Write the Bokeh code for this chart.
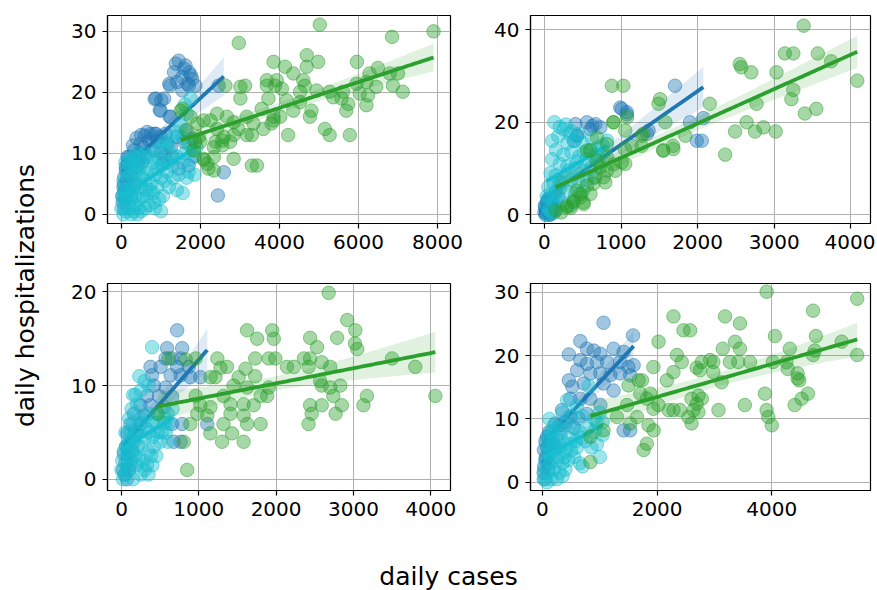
import numpy as np
from bokeh.plotting import figure
from bokeh.layouts import row, column
from bokeh.models import Label, FixedTicker, Range1d
from bokeh.embed import file_html
from bokeh.resources import INLINE

BLUE = "#1f77b4"
CYAN = "#17becf"
GREEN = "#2ca02c"

# ---------------- data (daily cases, daily hospitalizations) ----------------
p1_green = [(5020,31.1),(7900,30.0),(6850,29.1),(2970,28.1),(4690,26.1),(4690,24.2),(4980,25.0),(3850,25.0),
    (4140,24.2),(5960,25.0),(6490,24.0),(6280,23.1),(6790,23.1),(7000,23.1),(3680,22.0),(3930,22.0),(4600,22.0),
    (3680,21.1),(3890,21.1),(4060,20.6),(3130,21.1),(4640,21.1),(4940,20.3),(4520,20.1),(5270,20.1),(5610,20.1),
    (5950,21.4),(6200,21.7),(6450,20.9),(6870,21.1),(7120,20.1),(6030,19.8),(6240,19.5),(5570,19.0),(5740,18.1),
    (6200,17.9),(5690,17.0),(4520,18.4),(4350,17.0),(4180,18.7),(3720,19.0),(3010,19.0),(3550,17.3),(3850,16.0),
    (4020,16.0),(4770,16.0),(4810,17.0),(3170,16.0),(3340,14.9),(3590,14.0),(3800,14.9),(3850,15.4),(2960,14.0),
    (3170,13.0),(2840,13.0),(2590,12.7),(2420,14.0),(2250,15.4),(2080,15.4),(2420,16.5),(2670,16.0),(2840,15.1),
    (2550,12.1),(2750,11.9),(2380,11.9),(2000,11.9),(2340,11.0),(2550,11.3),(3300,13.0),(4220,13.0),(5150,14.0),
    (5270,13.0),(5780,13.0),(2840,9.1),(2080,9.1),(2170,8.3),(2340,7.2),(3300,8.0),(3430,8.0),(1830,10.5),
    (1960,12.7),(1500,17.0),(1540,17.3),(1750,16.0),(1920,14.9),(2340,9.4),(3010,20.9),(2630,21.1),(4350,23.1),
    (5360,19.2),(1660,13.8),(1870,11.9),(2090,8.9),(2200,7.5)]
p1_blue = [(1450,25.2),(1620,24.4),(1330,23.3),(1710,23.3),(1540,22.5),(1790,22.2),(1210,21.4),(1410,21.7),
    (1710,21.1),(1870,21.1),(1540,20.3),(870,19.0),(1080,19.0),(990,17.0),(1240,16.0),(2460,21.1),(2590,6.9),
    (2440,3.1),(740,13.2),(870,13.2),(990,12.7),(700,12.1),(490,11.6),(320,10.5),(190,9.4),(150,8.3),(110,7.2),
    (240,6.1),(360,5.0),(70,5.0),(70,3.7),(400,7.8),(610,9.4),(820,10.5),(1160,11.6),(1410,12.7),(1620,13.8),
    (1580,11.9),(1290,9.4),(1040,8.3),(1790,12.4),(1120,13.2),(530,8.6),(280,7.5),(150,5.8),(1375,24.7),
    (1585,23.9),(1755,22.8),(1230,21.1),(1670,21.4),(840,18.9),(1010,18.7),(970,17.1),(1220,16.0),(840,13.2),
    (590,12.9),(290,11.3),(150,9.4),(110,7.8),(70,6.1),(410,8.9),(30,2.0),(50,4.5),(20,3.0),(100,2.5),(200,4.0),
    (60,1.0),(250,3.0),(500,13.0),(650,13.5),(900,12.0),(1000,10.0),(1100,9.5),(1250,11.0),(380,12.5),
    (450,10.0),(560,11.0),(1850,9.5),(1700,8.0),(1450,7.5)]
p1_cyan = [(1750,19.0),(1600,18.0),(1650,16.5),(1500,14.5),(1400,13.5),(1300,12.8),(1550,12.5),(1700,11.5),
    (1800,10.5),(1900,11.0),(1200,11.5),(1100,12.0),(1000,11.0),(900,10.5),(1250,10.0),(1400,9.5),(1550,8.5),
    (1700,7.0),(1850,6.5),(1650,6.0),(1300,8.0),(1150,8.5),(950,9.0),(800,8.5),(700,9.5),(600,10.0),(500,9.5),
    (400,10.0),(300,9.5),(200,9.0),(100,8.5),(650,7.5),(550,7.0),(450,7.5),(350,7.0),(250,6.5),(150,6.0),(50,5.5),
    (850,6.5),(1000,6.0),(1100,5.5),(1200,4.5),(1400,4.0),(1550,3.5),(900,4.5),(750,5.0),(600,5.5),(500,4.5),
    (400,5.0),(300,4.5),(200,4.0),(100,3.5),(50,2.5),(150,2.0),(250,2.5),(350,3.0),(450,2.5),(550,3.0),(650,3.0),
    (800,3.5),(950,2.5),(1050,3.0),(700,1.5),(600,1.0),(500,0.5),(400,0.0),(300,0.5),(200,1.0),(100,0.5),(0,1.0),
    (50,0.0),(250,0.0),(350,1.5),(450,1.0),(850,1.0),(1000,0.5),(150,3.0),(75,4.0),(25,3.0),(120,7.0),(220,8.0),
    (320,8.5),(420,8.0),(520,6.0),(620,4.0),(720,4.0),(820,2.0),(1150,7.0),(1300,6.0),(1450,6.5),(1600,10.0),
    (1750,9.0),(1000,8.0),(900,7.5)]

p2_green = [(3385,40.9),(3140,34.9),(3250,34.9),(3570,34.9),(3745,33.2),(2550,32.6),(2570,31.9),(2700,30.8),
    (3030,30.8),(4085,29.0),(880,27.9),(1030,27.9),(3250,27.0),(3225,25.0),(2770,24.0),(2160,24.0),(1510,25.0),
    (1490,24.0),(3400,21.9),(3550,22.9),(2640,20.0),(2490,18.0),(2750,18.0),(2860,18.9),(3020,18.0),(1840,17.1),
    (1580,20.0),(1680,14.9),(1550,13.9),(2360,13.0),(1080,21.1),(900,20.0),(1055,18.2),(1290,17.5),(1270,14.9),
    (1140,14.9),(1010,11.3),(1055,11.0),(925,9.5),(795,7.0),(665,8.1),(730,10.2),(555,6.3),(470,3.8),(380,2.7),
    (295,1.9),(510,2.7),(600,4.5),(425,5.2),(815,15.3),(685,16.7),(555,13.9),(903,20.0),(1050,14.2),(903,10.9),
    (816,9.5),(773,8.1),(643,6.7),(469,4.5),(382,3.0),(295,1.6),(512,2.3),(686,11.7),(599,13.9),(816,12.4),
    (1270,17.1),(1554,13.9),(1684,14.2),(145,1.0),(220,0.5),(350,1.5)]
p2_blue = [(1705,27.9),(1010,22.9),(1075,22.2),(1360,18.2),(1340,17.5),(1990,16.0),(2055,16.0),(1900,20.0),
    (2075,20.9),(665,19.6),(600,18.5),(425,17.1),(405,19.6),(555,20.0),(730,18.9),(990,23.2),(1077,21.7),
    (625,19.2),(430,17.1),(382,16.0),(20,0.5),(40,1.0),(60,0.0),(80,1.5),(30,2.5),(50,3.5),(70,2.0),(90,0.5),
    (10,1.5),(100,3.0),(150,5.0),(200,7.0),(120,2.0),(180,4.0),(0,0.5),(15,0.0),(35,0.5),(45,1.5),(25,1.0),
    (55,2.5),(65,0.5),(85,1.0),(5,2.0),(75,0.0),(110,1.0),(130,0.5),(95,2.5),(40,3.0)]
p2_cyan = [(130,20.0),(200,19.0),(250,18.5),(330,17.5),(180,17.0),(100,16.0),(300,15.5),(400,16.0),(500,15.5),
    (620,16.5),(700,14.5),(780,13.5),(150,14.0),(250,13.0),(350,13.5),(450,12.5),(550,12.0),(650,12.5),(100,12.0),
    (200,11.0),(300,10.5),(400,10.0),(500,9.5),(600,10.0),(720,11.0),(80,9.0),(150,8.5),(250,8.0),(350,7.5),
    (450,7.0),(550,7.5),(650,8.0),(50,6.0),(120,6.5),(200,5.5),(300,5.0),(400,4.5),(500,5.0),(30,4.0),(80,3.5),
    (150,3.0),(250,2.5),(350,2.0),(20,2.0),(60,1.0),(100,0.5),(180,1.5),(40,0.0),(130,4.5),(230,7.0),(320,9.5),
    (420,11.5),(520,13.5),(600,14.0),(680,13.0),(760,15.0),(820,16.0),(350,18.0),(450,17.5),(280,19.5)]

p3_green = [(2680,19.9),(2920,17.0),(3025,15.9),(1625,15.9),(1950,15.9),(1970,15.0),(1755,15.0),(2440,15.1),
    (2790,15.1),(2530,14.1),(3050,13.9),(610,12.9),(960,12.9),(1240,12.9),(1730,12.9),(1905,12.9),(1990,12.9),
    (2360,12.9),(2440,12.9),(2590,12.5),(2140,12.0),(2420,12.0),(2700,12.0),(3800,12.0),(3500,12.9),(1365,12.0),
    (1605,11.8),(1215,10.9),(1450,10.0),(1625,9.8),(1800,8.9),(1885,8.9),(1410,8.0),(1580,8.0),(1710,7.9),
    (1410,7.0),(1580,6.8),(1800,5.9),(1625,5.9),(1320,5.9),(1430,4.9),(1150,4.9),(1300,4.0),(1580,4.0),(960,8.9),
    (1020,7.9),(980,7.0),(1110,6.8),(890,5.9),(805,4.0),(850,1.0),(2440,7.9),(2590,7.9),(2460,7.0),(2420,5.9),
    (2770,7.0),(2850,7.9),(2590,10.0),(2740,8.9),(2830,10.0),(2700,9.8),(3175,8.9),(3130,7.9),(4060,8.9),
    (2570,10.5),(2230,12.0),(1730,11.0),(1905,9.8),(1320,8.9),(1150,7.7),(1515,10.9),(1280,11.9),(1150,10.9),
    (830,12.8),(470,7.0),(3020,14.5)]
p3_blue = [(720,15.9),(570,12.9),(655,12.9),(765,12.9),(375,12.0),(505,12.0),(395,11.1),(635,11.1),(765,11.1),
    (890,10.9),(1020,10.9),(420,10.0),(570,9.8),(330,8.9),(485,8.9),(655,8.8),(245,7.9),(375,7.9),(545,7.7),
    (160,7.0),(290,6.8),(115,5.9),(245,5.9),(655,5.9),(785,5.9),(1110,5.9),(75,4.9),(675,4.0),(765,4.0),(160,4.0),
    (590,14.0),(785,14.0),(870,12.0),(720,12.0),(30,2.7),(50,1.8),(95,1.0),(40,0.5),(60,3.5),(90,2.5),
    (130,3.0),(180,5.0),(120,1.5),(20,1.0),(70,0.0)]
p3_cyan = [(395,14.1),(200,8.0),(150,9.0),(250,9.5),(300,10.5),(350,10.0),(100,6.5),(50,5.0),(150,6.0),(250,6.5),
    (350,7.0),(450,7.0),(550,6.0),(600,4.0),(500,4.0),(400,4.5),(300,4.5),(200,5.0),(100,4.0),(30,3.0),
    (80,2.5),(150,3.0),(250,3.5),(350,3.0),(450,2.5),(0,1.0),(50,0.5),(100,1.0),(150,0.0),(200,1.5),(250,0.5),
    (300,1.0),(350,0.5),(400,1.5),(20,0.0),(70,1.5),(120,2.0),(180,2.5),(230,2.0),(280,2.0),(330,1.5),(380,2.5),
    (420,3.5),(470,5.0),(520,5.0),(570,5.0),(620,6.0),(660,7.5),(450,6.0),(550,6.5),(600,7.0),(10,2.0),(60,3.5),
    (110,5.0),(160,4.5),(210,3.5),(260,6.0),(310,5.5),(360,5.0),(410,6.0),(130,7.5),(180,9.0),(230,11.0)]

p4_green = [(3910,30.1),(5490,29.0),(4720,27.1),(2285,26.2),(3185,26.2),(3445,25.1),(2460,24.0),(2575,24.0),
    (4055,23.1),(4770,23.1),(5220,22.2),(2025,22.2),(3145,21.1),(3360,22.2),(3445,21.1),(4315,21.1),(4750,20.8),
    (4720,20.1),(5490,20.1),(2345,20.1),(2430,19.0),(2780,19.0),(2925,19.3),(2980,19.0),(3270,19.0),(3415,19.0),
    (3620,19.0),(4020,19.0),(4255,19.0),(2690,18.1),(2750,17.7),(2980,17.4),(2285,17.4),(2170,16.1),(1935,18.2),
    (1735,16.1),(1500,15.3),(3125,15.8),(4280,17.9),(4450,17.2),(4480,16.1),(4450,16.4),(4630,14.0),(4520,13.2),
    (4400,12.2),(3880,14.0),(3530,12.2),(3910,11.4),(3940,10.3),(4000,9.0),(3070,11.4),(2720,11.1),(2635,11.4),
    (2690,12.4),(2780,13.2),(2600,13.2),(2720,13.7),(2545,10.3),(2600,9.3),(2285,11.4),(2200,11.4),(2400,11.4),
    (1880,14.0),(1820,13.2),(1705,14.0),(2025,12.2),(1650,10.3),(1850,9.0),(1940,8.2),(1820,6.1),(1765,5.1),
    (1530,9.3),(1300,10.3),(1475,12.2),(1065,8.2),(835,3.2),(1675,16.1),(1935,11.6),(835,7.2)]
p4_blue = [(1065,25.2),(1580,23.2),(660,22.3),(460,20.2),(775,21.1),(895,20.8),(1010,20.3),(1240,21.1),
    (1415,20.6),(660,19.3),(775,18.7),(950,19.0),(1125,19.0),(1355,19.0),(1500,18.2),(1590,18.5),(605,17.7),
    (835,17.2),(1010,17.2),(1185,16.9),(1355,17.2),(1530,16.9),(460,16.1),(520,15.1),(720,15.6),(1065,15.6),
    (1240,14.5),(485,13.2),(660,13.2),(835,13.2),(340,11.4),(485,10.3),(630,10.1),(775,10.8),(1010,12.2),
    (1415,8.2),(1530,8.2),(225,9.3),(80,7.2),(140,6.1),(25,5.1),(55,3.5),(545,8.7),(315,7.7),(30,2.5),
    (60,4.0),(100,3.0),(150,4.5),(200,6.0),(250,5.5),(80,5.5),(120,8.0),(300,9.0),(400,9.5),(20,1.5),
    (50,6.5),(40,0.5),(110,2.0)]
p4_cyan = [(805,15.2),(430,13.0),(600,12.0),(350,11.0),(500,10.5),(700,10.5),(900,10.0),(1000,11.0),(1050,9.5),
    (800,8.5),(650,8.0),(550,8.5),(400,9.0),(300,8.5),(200,9.0),(100,7.0),(150,8.0),(250,7.0),(350,6.5),(450,7.0),
    (750,6.5),(850,5.5),(950,6.0),(1000,4.0),(1050,7.5),(600,5.5),(500,5.0),(400,5.0),(300,5.5),(200,5.0),(100,4.5),
    (50,3.5),(150,3.0),(250,3.5),(350,3.0),(450,3.5),(550,4.0),(650,3.0),(700,2.5),(30,2.0),(100,1.5),(200,2.0),
    (300,1.5),(400,2.0),(20,0.5),(80,0.0),(150,0.5),(250,0.5),(350,1.0),(60,6.0),(120,5.5),(180,6.5),(280,4.0),
    (380,4.0),(480,6.0),(580,6.5),(680,7.0),(900,8.0),(950,9.5),(120,10.0),(180,8.0)]

p1_xticks = [0, 2000, 4000, 6000, 8000]
p1_yticks = [0, 10, 20, 30]
p2_xticks = [0, 1000, 2000, 3000, 4000]
p2_yticks = [0, 20, 40]
p3_xticks = [0, 1000, 2000, 3000, 4000]
p3_yticks = [0, 10, 20]
p4_xticks = [0, 2000, 4000]
p4_yticks = [0, 10, 20, 30]

TICK_FONT = "DejaVu Sans"


def add_series(p, pts, color):
    x = np.array([a for a, b in pts], dtype=float)
    y = np.array([b for a, b in pts], dtype=float)
    p.scatter(x, y, size=13.5, fill_color=color, fill_alpha=0.42,
              line_color=color, line_alpha=0.5, line_width=1)
    slope, icpt = np.polyfit(x, y, 1)
    gx = np.linspace(x.min(), x.max(), 100)
    gy = icpt + slope * gx
    n = len(x)
    resid = y - (icpt + slope * x)
    s = np.sqrt(np.sum(resid ** 2) / (n - 2))
    sxx = np.sum((x - x.mean()) ** 2)
    se = s * np.sqrt(1.0 / n + (gx - x.mean()) ** 2 / sxx)
    p.varea(x=gx, y1=gy - 1.96 * se, y2=gy + 1.96 * se, fill_color=color, fill_alpha=0.15)
    p.line(gx, gy, line_color=color, line_width=3.8)


def make_panel(series, xr, yr, xt, yt, width, height, bl, br, bt, bb):
    p = figure(width=width, height=height, x_range=Range1d(*xr), y_range=Range1d(*yr),
               toolbar_location=None, output_backend="svg",
               min_border_left=bl, min_border_right=br, min_border_top=bt, min_border_bottom=bb)
    p.xaxis.ticker = FixedTicker(ticks=xt)
    p.yaxis.ticker = FixedTicker(ticks=yt)
    for ax in (p.xaxis, p.yaxis):
        ax.major_label_text_font = TICK_FONT
        ax.major_label_text_font_size = "20px"
        ax.major_label_text_color = "black"
        ax.major_tick_line_color = "black"
        ax.major_tick_line_width = 1.2
        ax.major_tick_out = 5
        ax.major_tick_in = 0
        ax.minor_tick_line_color = None
        ax.axis_line_color = "black"
        ax.axis_line_width = 1.2
        ax.major_label_standoff = 6
    p.grid.grid_line_color = "#b0b0b0"
    p.grid.grid_line_width = 1
    p.outline_line_color = "black"
    p.outline_line_width = 1.2
    p.outline_line_alpha = 1
    p.background_fill_color = "white"
    for pts, col in series:
        add_series(p, pts, col)
    return p


f1 = make_panel([(p1_blue, BLUE), (p1_cyan, CYAN), (p1_green, GREEN)],
                (-354, 8329), (-1.5, 32.6), p1_xticks, p1_yticks, 426, 263, 47, 36, 15, 40)
f2 = make_panel([(p2_blue, BLUE), (p2_cyan, CYAN), (p2_green, GREEN)],
                (-182, 4258), (-1.9, 43.1), p2_xticks, p2_yticks, 389, 263, 44, 5, 15, 40)
f3 = make_panel([(p3_blue, BLUE), (p3_cyan, CYAN), (p3_green, GREEN)],
                (-181, 4256), (-1.2, 20.9), p3_xticks, p3_yticks, 426, 267, 47, 36, 20, 40)
f4 = make_panel([(p4_blue, BLUE), (p4_cyan, CYAN), (p4_green, GREEN)],
                (-209, 5722), (-1.3, 31.4), p4_xticks, p4_yticks, 389, 267, 44, 5, 20, 40)

ylab = figure(width=60, height=530, x_range=Range1d(0, 1), y_range=Range1d(0, 1),
              toolbar_location=None, output_backend="svg", x_axis_type=None, y_axis_type=None,
              min_border=0)
ylab.outline_line_color = None
ylab.add_layout(Label(x=25, y=235, x_units="screen", y_units="screen", text="daily hospitalizations",
                      angle=np.pi / 2, text_align="center", text_baseline="middle",
                      text_font="DejaVu Sans", text_font_size="25px", text_color="black"))

xlab = figure(width=875, height=60, x_range=Range1d(0, 1), y_range=Range1d(0, 1),
              toolbar_location=None, output_backend="svg", x_axis_type=None, y_axis_type=None,
              min_border=0)
xlab.outline_line_color = None
xlab.add_layout(Label(x=448, y=14, x_units="screen", y_units="screen", text="daily cases",
                      text_align="center", text_baseline="alphabetic",
                      text_font="DejaVu Sans", text_font_size="25px", text_color="black"))

layout = column(row(ylab, column(row(f1, f2), row(f3, f4))), xlab)

open("out.html", "w").write(file_html(layout, INLINE))
